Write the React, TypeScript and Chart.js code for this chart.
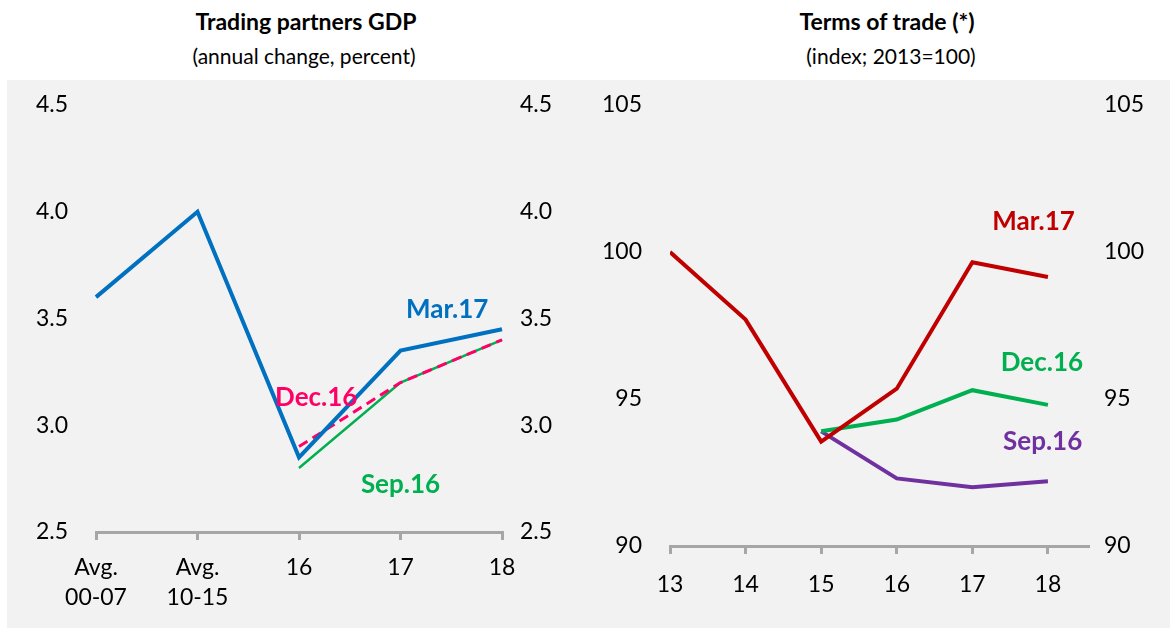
import React, { useEffect, useRef } from 'react';
import { Chart, registerables } from 'chart.js';

Chart.register(...registerables);

// ---- Left panel: Trading partners GDP ----
const gdpCategories = [['Avg.', '00-07'], ['Avg.', '10-15'], '16', '17', '18'];
const gdpMar17 = [3.6, 4.0, 2.85, 3.35, 3.45];
const gdpDec16 = [null, null, 2.9, 3.2, 3.4];
const gdpSep16 = [null, null, 2.8, 3.2, 3.4];
const gdpTickMin = 2.5;
const gdpTickMax = 4.5;
const gdpTickStep = 0.5;

// ---- Right panel: Terms of trade ----
const totYears = [13, 14, 15, 16, 17, 18];
const totMar17 = [100, 97.7, 93.55, 95.35, 99.65, 99.15];
const totDec16 = [null, null, 93.9, 94.3, 95.3, 94.8];
const totSep16 = [null, null, 93.9, 92.3, 92.0, 92.2];
const totTickMin = 90;
const totTickMax = 105;
const totTickStep = 5;

// series text labels (anchored in data space)
const gdpLabels = [
  { text: 'Mar.17', color: '#0070C0', x: 3.46, y: 3.54 },
  { text: 'Dec.16', color: '#FF0066', x: 2.17, y: 3.13 },
  { text: 'Sep.16', color: '#00B050', x: 3.0, y: 2.72 },
];
const totLabels = [
  { text: 'Mar.17', color: '#C00000', x: 17.81, y: 101.05 },
  { text: 'Dec.16', color: '#00B050', x: 17.92, y: 96.23 },
  { text: 'Sep.16', color: '#7030A0', x: 17.93, y: 93.54 },
];

const FONT = 'Lato, "Open Sans", sans-serif';
const AXIS_GRAY = '#A6A6A6';

const seriesLabelPlugin = (labels: { text: string; color: string; x: number; y: number }[]) => ({
  id: 'seriesLabels',
  afterDatasetsDraw(chart: any) {
    const ctx = chart.ctx;
    const xs = chart.scales.x;
    const ys = chart.scales.y;
    ctx.save();
    ctx.font = `bold 26px ${FONT}`;
    ctx.textAlign = 'center';
    ctx.textBaseline = 'middle';
    labels.forEach((l) => {
      ctx.fillStyle = l.color;
      ctx.fillText(l.text, xs.getPixelForValue(l.x), ys.getPixelForValue(l.y));
    });
    ctx.restore();
  },
});

const tickFont = { family: FONT, size: 23, lineHeight: 1.3 };
const noGrid = { display: false, drawTicks: false, tickLength: 0 };

function GdpChart() {
  const ref = useRef<HTMLCanvasElement>(null);
  useEffect(() => {
    const chart = new Chart(ref.current as HTMLCanvasElement, {
      type: 'line',
      data: {
        labels: gdpCategories as any,
        datasets: [
          { label: 'Mar.17', data: gdpMar17, borderColor: '#0070C0', borderWidth: 4, pointRadius: 0, tension: 0 },
          { label: 'Dec.16', data: gdpDec16, borderColor: '#FF0066', borderWidth: 3, borderDash: [10, 6], pointRadius: 0 },
          { label: 'Sep.16', data: gdpSep16, borderColor: '#00B050', borderWidth: 2.5, pointRadius: 0 },
        ],
      },
      options: {
        animation: false,
        responsive: false,
        maintainAspectRatio: false,
        layout: { padding: { top: 105, left: 0, right: 0, bottom: 0 } },
        plugins: { legend: { display: false }, tooltip: { enabled: false } },
        scales: {
          x: {
            type: 'category',
            offset: false,
            grid: { display: true, drawOnChartArea: false, drawTicks: true, tickLength: 8, color: AXIS_GRAY, lineWidth: 3 },
            border: { display: true, color: AXIS_GRAY, width: 3 },
            ticks: { padding: 13, color: '#000', font: tickFont, maxRotation: 0, autoSkip: false },
            afterFit: (s: any) => { s.height = 96; },
          },
          y: {
            position: 'left',
            min: gdpTickMin,
            max: gdpTickMax,
            grid: noGrid,
            border: { display: false },
            ticks: { stepSize: gdpTickStep, padding: 28, color: '#000', font: tickFont, callback: (v: any) => Number(v).toFixed(1) },
            afterFit: (s: any) => { s.width = 96; },
          },
          y2: {
            position: 'right',
            min: gdpTickMin,
            max: gdpTickMax,
            grid: noGrid,
            border: { display: false },
            ticks: { stepSize: gdpTickStep, padding: 18, color: '#000', font: tickFont, callback: (v: any) => Number(v).toFixed(1) },
            afterFit: (s: any) => { s.width = 83; },
          },
        },
      } as any,
      plugins: [seriesLabelPlugin(gdpLabels)],
    });
    return () => chart.destroy();
  }, []);
  return <canvas ref={ref} width={585} height={628} style={{ position: 'absolute', left: 0, top: 0, width: 585, height: 628 }} />;
}

function TotChart() {
  const ref = useRef<HTMLCanvasElement>(null);
  useEffect(() => {
    const toPoints = (arr: (number | null)[]) =>
      totYears.map((x, i) => ({ x, y: arr[i] })).filter((p) => p.y !== null);
    const chart = new Chart(ref.current as HTMLCanvasElement, {
      type: 'line',
      data: {
        datasets: [
          { label: 'Mar.17', data: toPoints(totMar17), borderColor: '#C00000', borderWidth: 4, pointRadius: 0 },
          { label: 'Dec.16', data: toPoints(totDec16), borderColor: '#00B050', borderWidth: 4, pointRadius: 0 },
          { label: 'Sep.16', data: toPoints(totSep16), borderColor: '#7030A0', borderWidth: 4, pointRadius: 0 },
        ],
      },
      options: {
        animation: false,
        responsive: false,
        maintainAspectRatio: false,
        layout: { padding: { top: 105, left: 0, right: 0, bottom: 0 } },
        plugins: { legend: { display: false }, tooltip: { enabled: false } },
        scales: {
          x: {
            type: 'linear',
            min: totYears[0],
            max: totYears[totYears.length - 1] + 0.53,
            afterBuildTicks: (s: any) => { s.ticks = totYears.map((v) => ({ value: v })); },
            grid: { display: true, drawOnChartArea: false, drawTicks: true, tickLength: 8, color: AXIS_GRAY, lineWidth: 3 },
            border: { display: true, color: AXIS_GRAY, width: 3 },
            ticks: { padding: 16, color: '#000', font: tickFont, maxRotation: 0, autoSkip: false, callback: (v: any) => String(v) },
            afterFit: (s: any) => { s.height = 82; },
          },
          y: {
            position: 'left',
            min: totTickMin,
            max: totTickMax,
            grid: noGrid,
            border: { display: false },
            ticks: { stepSize: totTickStep, padding: 28, color: '#000', font: tickFont },
            afterFit: (s: any) => { s.width = 85; },
          },
          y2: {
            position: 'right',
            min: totTickMin,
            max: totTickMax,
            grid: noGrid,
            border: { display: false },
            ticks: { stepSize: totTickStep, padding: 16, color: '#000', font: tickFont },
            afterFit: (s: any) => { s.width = 82; },
          },
        },
      } as any,
      plugins: [seriesLabelPlugin(totLabels)],
    });
    return () => chart.destroy();
  }, []);
  return <canvas ref={ref} width={585} height={628} style={{ position: 'absolute', left: 585, top: 0, width: 585, height: 628 }} />;
}

const titleStyle: React.CSSProperties = {
  position: 'absolute',
  top: 8,
  fontFamily: FONT,
  fontWeight: 'bold',
  fontSize: 23,
  lineHeight: '26px',
  textAlign: 'center',
  color: '#000',
};
const subStyle: React.CSSProperties = {
  position: 'absolute',
  top: 44,
  fontFamily: FONT,
  fontSize: 21,
  lineHeight: '24px',
  textAlign: 'center',
  color: '#000',
};

export default function App() {
  return (
    <div style={{ position: 'fixed', left: 0, top: 0, width: 1170, height: 628, background: '#fff', overflow: 'hidden' }}>
      <div style={{ position: 'absolute', left: 7, top: 80, right: 0, bottom: 0, background: '#F2F2F2' }} />
      <div style={{ ...titleStyle, left: 0, width: 612 }}>Trading partners GDP</div>
      <div style={{ ...subStyle, left: 0, width: 608 }}>(annual change, percent)</div>
      <div style={{ ...titleStyle, left: 585, width: 604 }}>Terms of trade (*)</div>
      <div style={{ ...subStyle, left: 585, width: 612 }}>(index; 2013=100)</div>
      <GdpChart />
      <TotChart />
    </div>
  );
}
